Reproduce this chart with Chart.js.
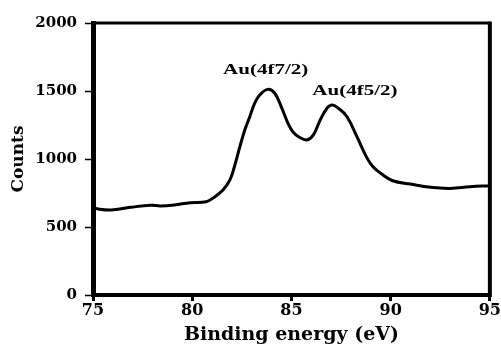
<!DOCTYPE html>
<html>
<head>
<meta charset="utf-8">
<script src="https://cdn.jsdelivr.net/npm/chart.js@4"></script>
<style>
  body { margin: 0; background: #fff; }
  canvas { display: block; }
</style>
</head>
<body>
<canvas id="xps" width="501" height="345"></canvas>
<script>
// Au 4f XPS spectrum
const energy = [75, 75.9, 76.9, 77.9, 78.4, 79.1, 79.9, 80.7, 81.05, 81.55, 81.9, 82.15, 82.4, 82.65, 82.9, 83.15, 83.4, 83.8, 84.15, 84.5, 84.85, 85.1, 85.4, 85.77, 86.1, 86.45, 86.8, 87.05, 87.35, 87.8, 88.3, 88.8, 89.1, 89.5, 90.1, 91.0, 92.0, 93.0, 94.0, 95.0];
const counts = [637, 625, 645, 660, 655, 662, 679, 686, 713, 772, 846, 956, 1090, 1213, 1311, 1410, 1470, 1512, 1485, 1380, 1255, 1195, 1160, 1140, 1176, 1287, 1375, 1397, 1375, 1311, 1164, 1010, 945, 895, 840, 816, 792, 784, 796, 804];

const peakNames = ['Au(4f7/2)', 'Au(4f5/2)'];
const peakX = [83.7, 88.2];
const peakY = [1655, 1500];

const xTicks = [75, 80, 85, 90, 95];
const yTicks = [0, 500, 1000, 1500, 2000];

const serif = '"DejaVu Serif", "Liberation Serif", serif';

const frameAndLabels = {
  id: 'frameAndLabels',
  afterDraw(chart) {
    const { ctx, chartArea: a, scales: { x, y } } = chart;
    ctx.save();
    ctx.strokeStyle = '#000';
    // top and right edges of the box
    ctx.lineWidth = 3;
    ctx.beginPath();
    ctx.moveTo(a.left, a.top);
    ctx.lineTo(a.right, a.top);
    ctx.stroke();
    ctx.lineWidth = 4;
    ctx.beginPath();
    ctx.moveTo(a.right, a.top - 1.5);
    ctx.lineTo(a.right, a.bottom + 2);
    ctx.stroke();

    // peak labels
    ctx.fillStyle = '#000';
    ctx.font = 'bold 14px "Liberation Serif"';
    ctx.textAlign = 'center';
    ctx.textBaseline = 'middle';
    peakNames.forEach((t, i) => {
      ctx.save();
      ctx.translate(x.getPixelForValue(peakX[i]), y.getPixelForValue(peakY[i]));
      ctx.scale(1.5, 1);
      ctx.fillText(t, 0, 0);
      ctx.restore();
    });
    ctx.restore();
  }
};

new Chart(document.getElementById('xps'), {
  type: 'line',
  data: {
    datasets: [{
      data: energy.map((e, i) => ({ x: e, y: counts[i] })),
      borderColor: '#000',
      borderWidth: 3,
      pointRadius: 0,
      fill: false,
      tension: 0.4
    }]
  },
  options: {
    responsive: false,
    animation: false,
    layout: { padding: { top: 23, right: 11, left: 0, bottom: 0 } },
    plugins: { legend: { display: false }, tooltip: { enabled: false } },
    scales: {
      x: {
        type: 'linear',
        min: 75,
        max: 95,
        afterFit(s) { s.height = 50; },
        afterBuildTicks(s) { s.ticks = xTicks.map(v => ({ value: v })); },
        grid: { drawOnChartArea: false, tickLength: 6, tickWidth: 3, tickColor: '#000' },
        border: { display: true, color: '#000', width: 4 },
        ticks: {
          color: '#000', padding: 0, maxRotation: 0,
          callback: v => String(v),
          font: { family: serif, size: 16, weight: 'bold' }
        },
        title: {
          display: true,
          text: 'Binding energy (eV)',
          color: '#000',
          padding: 0,
          font: { family: serif, size: 19, weight: 'bold', lineHeight: 1 }
        }
      },
      y: {
        min: 0,
        max: 2000,
        afterFit(s) { s.width = 93; },
        afterBuildTicks(s) { s.ticks = yTicks.map(v => ({ value: v })); },
        grid: { drawOnChartArea: false, tickLength: 8, tickWidth: 1.5, tickColor: '#000' },
        border: { display: true, color: '#000', width: 5 },
        ticks: {
          color: '#000', padding: 8,
          callback: v => String(v),
          font: { family: serif, size: 15, weight: 'bold' }
        },
        title: {
          display: true,
          text: 'Counts',
          color: '#000',
          padding: { top: 10, bottom: 0 },
          font: { family: serif, size: 17, weight: 'bold', lineHeight: 1 }
        }
      }
    }
  },
  plugins: [frameAndLabels]
});
</script>
</body>
</html>
